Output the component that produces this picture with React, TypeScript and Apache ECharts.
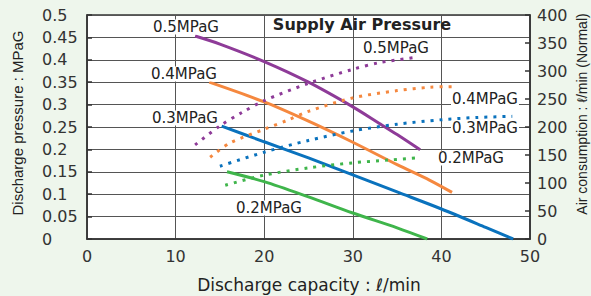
import React, { useEffect, useRef } from "react";
import * as echarts from "echarts";

// Discharge pressure (MPaG) vs discharge capacity (l/min) — solid lines, left axis
const p05X = [12.2, 15, 20, 25, 30, 33, 35, 37.6];
const p05Y = [0.453, 0.435, 0.396, 0.35, 0.295, 0.258, 0.233, 0.199];
const p04X = [13.8, 20, 25, 30, 35, 38.7, 41.2];
const p04Y = [0.35, 0.306, 0.263, 0.216, 0.166, 0.131, 0.104];
const p03X = [15.2, 20, 25, 30, 35, 40, 45, 48.1];
const p03Y = [0.252, 0.217, 0.181, 0.143, 0.105, 0.067, 0.026, 0];
const p02X = [15.8, 20, 25, 30, 35, 38.4];
const p02Y = [0.15, 0.128, 0.094, 0.058, 0.025, 0];

// Air consumption (l/min Normal) vs discharge capacity — dotted lines, right axis
const a05X = [12.2, 15, 17.5, 20, 25, 30, 33, 37];
const a05Y = [168, 202, 226, 247, 278, 303, 315, 324];
const a04X = [13.9, 16.1, 20, 22.6, 25, 30, 35, 38.7, 41.5];
const a04Y = [146, 171, 196, 212, 228, 252, 265, 271, 272];
const a03X = [15, 20, 25, 30, 35, 40, 44, 48];
const a03Y = [130, 155, 176, 193, 205, 213, 217, 219];
const a02X = [15.6, 20, 25, 30, 34, 37.5];
const a02Y = [96, 114, 127, 136, 141, 145];

const seriesNames = ["0.5MPaG", "0.4MPaG", "0.3MPaG", "0.2MPaG"];
const colors = ["#8e3b98", "#f5883f", "#0a72bd", "#3fb54b"];

const zip = (xs: number[], ys: number[]) => xs.map((x, i) => [x, ys[i]]);

const FONT = "DejaVu Sans";

export default function App() {
  const ref = useRef<HTMLDivElement>(null);
  useEffect(() => {
    if (!ref.current) return;
    const chart = echarts.init(ref.current, null, { renderer: "svg" });
    const solid = [zip(p05X, p05Y), zip(p04X, p04Y), zip(p03X, p03Y), zip(p02X, p02Y)];
    const dotted = [zip(a05X, a05Y), zip(a04X, a04Y), zip(a03X, a03Y), zip(a02X, a02Y)];
    const series: any[] = [];
    solid.forEach((d, i) =>
      series.push({
        name: seriesNames[i] + " pressure",
        type: "line",
        yAxisIndex: 0,
        data: d,
        smooth: 0.3,
        showSymbol: false,
        symbol: "none",
        lineStyle: { color: colors[i], width: 3 },
        z: 3,
      })
    );
    dotted.forEach((d, i) =>
      series.push({
        name: seriesNames[i] + " air",
        type: "line",
        yAxisIndex: 1,
        data: d,
        smooth: 0.3,
        showSymbol: false,
        symbol: "none",
        lineStyle: { color: colors[i], width: 3, type: [3, 6], cap: "butt" },
        z: 3,
      })
    );
    const lbl = (text: string, x: number, y: number) => ({
      type: "text",
      x,
      y,
      z: 10,
      style: {
        text,
        font: `15px "${FONT}"`,
        fill: "#222",
        align: "left",
        verticalAlign: "middle",
        backgroundColor: "#fff",
        padding: [0, 1],
      },
    });
    chart.setOption({
      animation: false,
      backgroundColor: "#eef6ec",
      grid: {
        left: 87,
        right: 61,
        top: 15,
        bottom: 57,
        show: true,
        backgroundColor: "#fff",
        borderColor: "#333",
        borderWidth: 1.5,
      },
      xAxis: {
        type: "value",
        min: 0,
        max: 50,
        interval: 10,
        axisLine: { show: true, lineStyle: { color: "#333", width: 1.5 } },
        axisTick: { show: false },
        axisLabel: { margin: 9, fontSize: 16, fontFamily: FONT, color: "#333" },
        splitLine: { show: true, lineStyle: { color: "#555", width: 1 } },
      },
      yAxis: [
        {
          type: "value",
          min: 0,
          max: 0.5,
          interval: 0.05,
          axisLine: { show: true, lineStyle: { color: "#333", width: 1.5 } },
          axisTick: { show: true, inside: true, length: 5, lineStyle: { color: "#333", width: 1.5 } },
          axisLabel: {
            margin: 45,
            align: "left",
            fontSize: 16,
            fontFamily: FONT,
            color: "#333",
            formatter: (v: number) => String(Number(v.toFixed(2))),
          },
          splitLine: { show: true, lineStyle: { color: "#555", width: 1 } },
        },
        {
          type: "value",
          position: "right",
          min: 0,
          max: 400,
          interval: 50,
          axisLine: { show: true, lineStyle: { color: "#333", width: 1.5 } },
          axisTick: { show: true, inside: true, length: 5, lineStyle: { color: "#333", width: 1.5 } },
          axisLabel: { margin: 7, align: "left", fontSize: 16, fontFamily: FONT, color: "#333" },
          splitLine: { show: false },
        },
      ],
      series,
      graphic: [
        {
          type: "text",
          x: 362,
          y: 24,
          z: 10,
          style: {
            text: "Supply Air Pressure",
            font: `bold 16px "${FONT}"`,
            fill: "#222",
            align: "center",
            verticalAlign: "middle",
          },
        },
        {
          type: "text",
          x: 309,
          y: 285,
          style: {
            text: "Discharge capacity : ℓ/min",
            font: `17px "${FONT}"`,
            fill: "#222",
            align: "center",
            verticalAlign: "middle",
          },
        },
        {
          type: "text",
          x: 17,
          y: 123,
          rotation: Math.PI / 2,
          style: {
            text: "Discharge pressure : MPaG",
            font: `15px "Liberation Sans"`,
            fill: "#222",
            align: "center",
            verticalAlign: "middle",
          },
        },
        {
          type: "text",
          x: 582,
          y: 114,
          rotation: Math.PI / 2,
          style: {
            text: "Air consumption : ℓ/min (Normal)",
            font: `14px "Liberation Sans"`,
            fill: "#222",
            align: "center",
            verticalAlign: "middle",
          },
        },
        lbl(seriesNames[0], 152, 27),
        lbl(seriesNames[1], 150, 74),
        lbl(seriesNames[2], 151, 118),
        lbl(seriesNames[3], 235, 208),
        lbl(seriesNames[0], 362, 48),
        lbl(seriesNames[1], 451, 99),
        lbl(seriesNames[2], 451, 128),
        lbl(seriesNames[3], 437, 158),
      ],
    });
    return () => chart.dispose();
  }, []);
  return (
    <div
      ref={ref}
      style={{ position: "absolute", left: 0, top: 0, width: 591, height: 296 }}
    />
  );
}
